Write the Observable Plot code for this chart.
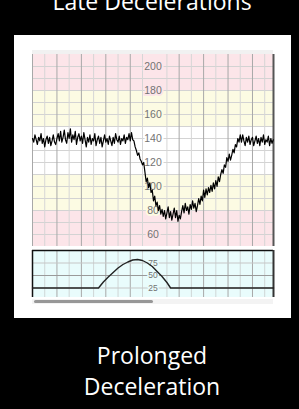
<!DOCTYPE html>
<html><head><meta charset="utf-8">
<script src="https://cdn.jsdelivr.net/npm/d3@7"></script>
<script src="https://cdn.jsdelivr.net/npm/@observablehq/plot@0.6"></script>
<style>
html,body{margin:0;padding:0;background:#000;width:299px;height:409px;overflow:hidden;}
#root{position:relative;width:299px;height:409px;background:#000;}
#panel{position:absolute;left:14px;top:35px;width:277px;height:283px;background:#fff;}
#strip{position:absolute;left:32px;top:50px;width:241px;height:4px;background:#f1f1f1;}
#upper{position:absolute;left:32px;top:54px;}
#lower{position:absolute;left:32px;top:250px;}
#track{position:absolute;left:32px;top:299px;width:241px;height:5px;background:#f3f3f3;}
#thumb{position:absolute;left:34px;top:299.5px;width:119px;height:3.5px;background:#979797;border-radius:2px;}
#texts{position:absolute;left:0;top:0;}
</style></head>
<body><div id="root">
<div id="panel"></div><div id="strip"></div>
<div id="upper"></div><div id="lower"></div>
<div id="track"></div><div id="thumb"></div>
<svg id="texts" width="299" height="409" style="pointer-events:none">
  <text x="152" y="10" text-anchor="middle" fill="#fff" font-family="Open Sans" font-size="23">Late Decelerations</text>
  <text x="152" y="364" text-anchor="middle" fill="#fff" font-family="Open Sans" font-size="23">Prolonged</text>
  <text x="152" y="395" text-anchor="middle" fill="#fff" font-family="Open Sans" font-size="23">Deceleration</text>
</svg>
</div>
<script>
// ---- data ----
// fetal heart rate trace (bpm), sampled every 0.5 time units from t = 0
const fhrStart = 0;
const fhrStep = 0.5;
const fhr = [
  140,137,143,139,135,141,138,144,136,140,
  133,139,142,136,141,134,138,143,137,135,
  140,144,138,146,137,141,147,139,136,145,
  140,148,137,143,139,146,135,141,144,138,
  142,136,145,139,133,141,137,143,135,140,
  138,144,134,139,142,136,141,133,138,143,
  137,140,135,142,138,134,141,136,144,139,
  137,142,135,140,138,143,136,141,139,144,
  138,145,139,
  138,133,130,126,128,123,121,118,120,112,104,107,99,103,95,97,88,92,84,87,80,84,77,81,
  75,80,73,78,83,74,79,72,77,82,74,80,71,76,73,79,
  84,78,86,80,83,77,85,81,88,82,86,79,84,90,85,92,88,97,
  91,98,93,99,95,101,96,103,98,105,100,108,104,110,114,111,
  118,116,124,121,127,122,126,131,128,135,133,140,137,143,
  137,143,138,134,141,137,142,135,139,141,134,138,142,136,140,134,141,137,143,135,139,137,142,134,140,136,139
];
// uterine contraction trace
const ucTime  = [0, 27, 29, 31, 33, 35, 37, 39, 41, 43, 45, 47, 49, 51, 53, 55, 56.5, 98.6];
const ucValue = [25, 25, 37, 47, 56, 65, 72, 77, 81, 82, 80, 75, 68, 58, 48, 36, 25, 25];
// zones of the heart-rate panel
const bandLow  = [50, 80, 110, 150, 180];
const bandHigh = [80, 110, 150, 180, 210];
const bandZone = ["alert", "caution", "normal", "caution", "alert"];
// tick labels
const fhrLabels = [200, 180, 160, 140, 120, 100, 80, 60];
const ucLabels = [75, 50, 25];
const fhrGrid = [60, 70, 80, 90, 100, 110, 120, 130, 140, 150, 160, 170, 180, 190, 200];
const ucGrid = [25, 50, 75];
const timeMajor = [0, 10, 20, 30, 40, 60, 70, 80, 90];
const timeMinor = [5, 15, 25, 35, 45, 55, 65, 75, 85, 95];
const timeDomain = [0, 98.6];

// ---- styles ----
const zoneColor = {alert: "#fce5e9", caution: "#fcfbe3", normal: "#ffffff"};
const ucBg = "#e9fcfc";
const labelX = 49.3;

const bands = bandLow.map((lo, i) => ({lo, hi: bandHigh[i], zone: bandZone[i]}));
const fhrData = fhr.map((v, i) => ({t: fhrStart + i * fhrStep, v}));
const ucData = ucTime.map((t, i) => ({t, v: ucValue[i]}));
const zoneOf = v => bands.find(b => v >= b.lo && v < b.hi) || bands[bands.length - 1];

const upper = Plot.plot({
  width: 241, height: 192, margin: 0,
  style: {background: "transparent", overflow: "visible"},
  x: {domain: timeDomain, axis: null},
  y: {domain: [50, 210], axis: null},
  color: {type: "identity"},
  marks: [
    Plot.rect(bands, {x1: timeDomain[0], x2: timeDomain[1], y1: "lo", y2: "hi", fill: d => zoneColor[d.zone]}),
    Plot.ruleY(fhrGrid, {stroke: "#d3d3d3", strokeWidth: 1}),
    Plot.ruleX(timeMinor, {stroke: "#d6d6d6", strokeWidth: 1}),
    Plot.ruleX(timeMajor, {stroke: "#a8a8a8", strokeWidth: 1}),
    Plot.ruleX([timeDomain[1]], {stroke: "#555", strokeWidth: 2}),
    Plot.text(fhrLabels, {x: labelX, y: d => d, text: d => String(d), fill: "#737373",
      stroke: d => zoneColor[zoneOf(d).zone], strokeWidth: 4,
      fontSize: 10.5, fontFamily: "Liberation Sans, Arial, sans-serif"}),
    Plot.line(fhrData, {x: "t", y: "v", stroke: "#000", strokeWidth: 1.2})
  ]
});
document.getElementById("upper").appendChild(upper);

const lower = Plot.plot({
  width: 241, height: 47, margin: 0,
  style: {background: "transparent", overflow: "visible"},
  x: {domain: timeDomain, axis: null},
  y: {domain: [6, 100], axis: null},
  marks: [
    Plot.rect([0], {x1: timeDomain[0], x2: timeDomain[1], y1: 6, y2: 100, fill: ucBg}),
    Plot.ruleX(timeMinor, {stroke: "#cfd6d6", strokeWidth: 1}),
    Plot.ruleX(timeMajor, {stroke: "#a8a8a8", strokeWidth: 1}),
    Plot.ruleY(ucGrid, {stroke: d => d === 50 ? "#9a9a9a" : "#c6c6c6", strokeWidth: 1}),
    Plot.ruleY([100], {stroke: "#111", strokeWidth: 1.5}),
    Plot.ruleX([timeDomain[0]], {stroke: "#111", strokeWidth: 1.5}),
    Plot.ruleX([timeDomain[1]], {stroke: "#333", strokeWidth: 2}),
    Plot.text(ucLabels, {x: labelX, y: d => d, text: d => String(d), fill: "#737373",
      stroke: ucBg, strokeWidth: 3, fontSize: 8.5, fontFamily: "Liberation Sans, Arial, sans-serif"}),
    Plot.line(ucData, {x: "t", y: "v", stroke: "#222", strokeWidth: 1.4})
  ]
});
document.getElementById("lower").appendChild(lower);
</script>
</body></html>
